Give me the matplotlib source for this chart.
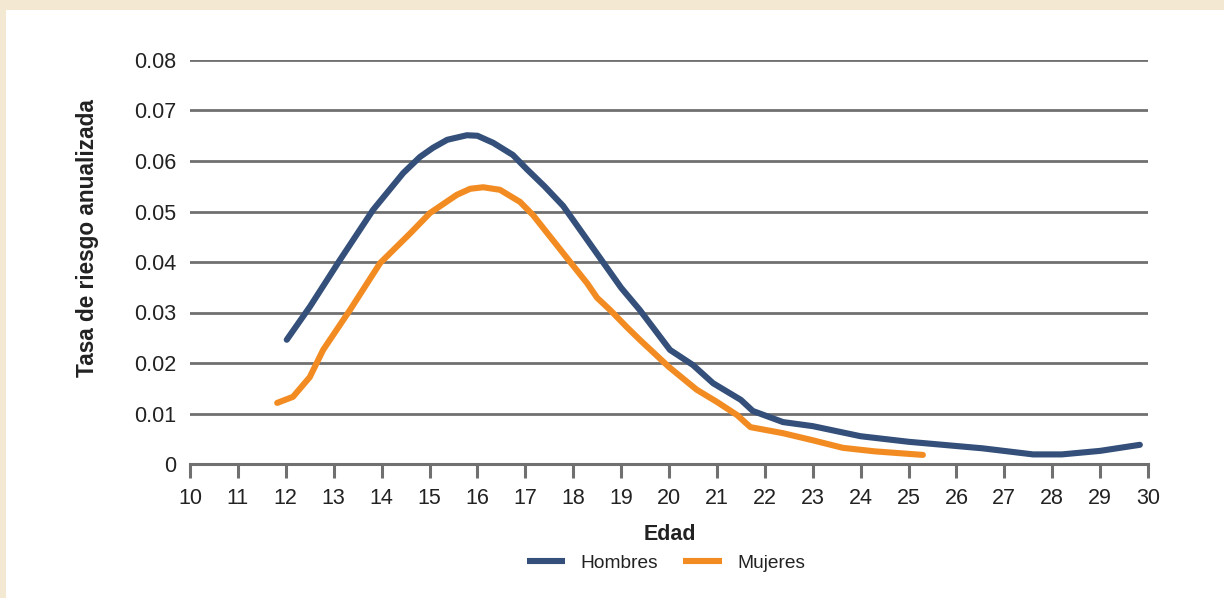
import matplotlib
matplotlib.use("Agg")
import matplotlib.pyplot as plt
from matplotlib.patches import Rectangle

plt.rcParams["font.family"] = ["Liberation Sans", "DejaVu Sans"]

# values
edad_h = [12.02, 12.5, 13.13, 13.82, 14.45, 14.8, 15.07, 15.37, 15.78, 16.0, 16.33, 16.74,
          17.03, 17.4, 17.79, 17.97, 18.56, 19.0, 19.39, 20.02, 20.5, 20.92, 21.5, 21.75,
          22.38, 23.0, 24.0, 25.0, 26.55, 27.6, 28.2, 29.0, 29.83]
tasa_h = [0.0246, 0.0311, 0.0404, 0.0503, 0.0576, 0.0608, 0.0626, 0.0642, 0.0651, 0.065,
          0.0636, 0.0612, 0.0584, 0.055, 0.0511, 0.0487, 0.0408, 0.0349, 0.0305, 0.0226,
          0.0196, 0.016, 0.0127, 0.0105, 0.0083, 0.0075, 0.0055, 0.0044, 0.0031, 0.0019,
          0.0019, 0.0026, 0.0038]

edad_m = [11.82, 12.15, 12.5, 12.78, 13.34, 13.97, 14.6, 15.01, 15.57, 15.85, 16.12, 16.47,
          16.89, 17.16, 17.87, 18.29, 18.5, 18.77, 19.12, 19.39, 20.0, 20.58, 21.0, 21.42,
          21.7, 22.38, 23.0, 23.63, 24.3, 25.3]
tasa_m = [0.0121, 0.0133, 0.0172, 0.0226, 0.0305, 0.0398, 0.0457, 0.0497, 0.0533, 0.0545,
          0.0548, 0.0543, 0.0519, 0.0493, 0.0408, 0.0358, 0.0329, 0.0305, 0.0271, 0.0246,
          0.0192, 0.0147, 0.0123, 0.0097, 0.0073, 0.0061, 0.0047, 0.0032, 0.0025, 0.0018]

x_ticks = list(range(10, 31))
y_ticks = [0, 0.01, 0.02, 0.03, 0.04, 0.05, 0.06, 0.07, 0.08]
y_labels = ["0", "0.01", "0.02", "0.03", "0.04", "0.05", "0.06", "0.07", "0.08"]

azul = "#34507a"
naranja = "#f28c22"
gris = "#707070"

fig = plt.figure(figsize=(12.24, 5.98), dpi=100, facecolor="#f3e8d2")
fig.patches.append(Rectangle((6 / 1224, 0), 1, 1 - 10 / 598, transform=fig.transFigure,
                             facecolor="white", edgecolor="none", zorder=-10))
ax = fig.add_axes([190 / 1224, 1 - 464 / 598, 958 / 1224, 404 / 598])
ax.set_facecolor("none")

ax.plot(edad_h, tasa_h, color=azul, lw=4.4, solid_capstyle="round",
        solid_joinstyle="round", label="Hombres", zorder=3)
ax.plot(edad_m, tasa_m, color=naranja, lw=4.4, solid_capstyle="round",
        solid_joinstyle="round", label="Mujeres", zorder=3)

ax.set_xlim(10, 30)
ax.set_ylim(0, 0.08)
ax.set_xticks(x_ticks)
ax.set_yticks(y_ticks, y_labels)
ax.tick_params(axis="x", direction="out", length=10, width=2.2, color=gris,
               labelsize=15.5, labelcolor="#222222", pad=7)
ax.tick_params(axis="y", length=0, labelsize=15.5, labelcolor="#222222", pad=10)
for side in ["top", "right", "left"]:
    ax.spines[side].set_visible(False)
ax.spines["bottom"].set_color(gris)
ax.spines["bottom"].set_linewidth(2.2)
ax.grid(axis="y", color=gris, lw=2.0, zorder=1)
ax.set_axisbelow(True)

ax.set_ylabel("Tasa de riesgo anualizada", fontsize=16.3, fontweight="bold",
              color="#222222")
ax.yaxis.set_label_coords((99 - 190) / 958, (464 - 238) / 404)
fig.text(670 / 1224, 1 - 535 / 598, "Edad", fontsize=15.5, fontweight="bold",
         color="#222222", ha="center", va="center")
leg = fig.legend(loc="center", bbox_to_anchor=(666 / 1224, 1 - 563 / 598), ncol=2,
                 frameon=False, fontsize=13.8, handlelength=2.0, columnspacing=1.3,
                 handletextpad=0.8)
for h in leg.get_lines():
    h.set_solid_capstyle("butt")
for t in leg.get_texts():
    t.set_color("#222222")

fig.savefig("out.png", dpi=100, facecolor=fig.get_facecolor())
